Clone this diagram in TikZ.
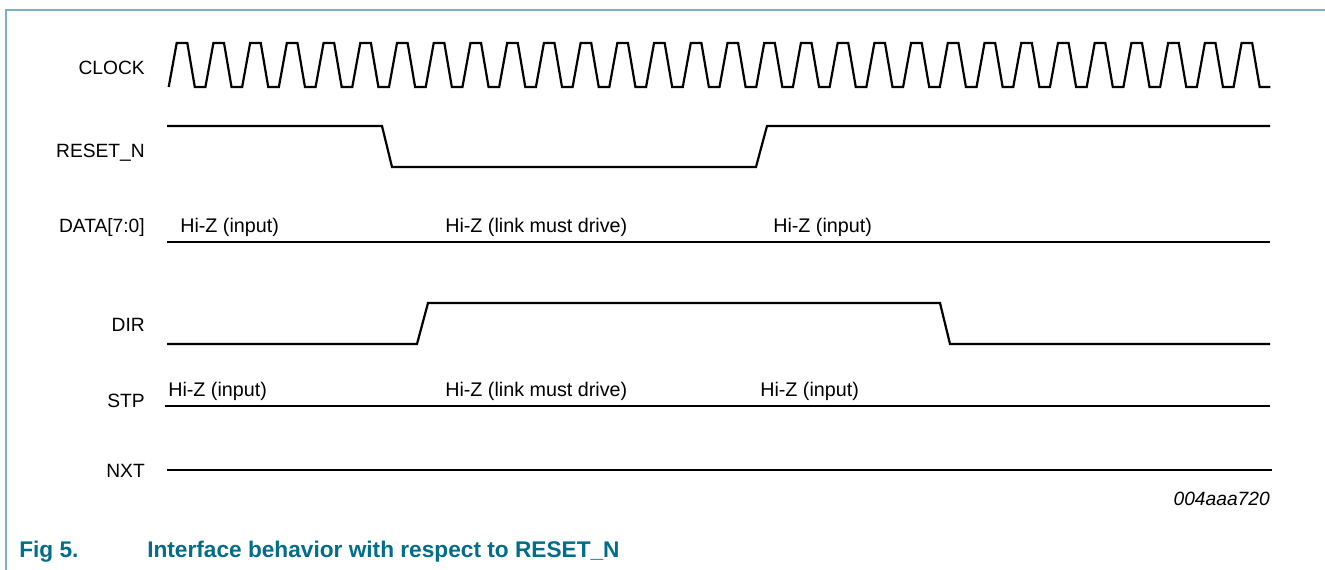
\documentclass[tikz,border=0pt]{standalone}
\usepackage{fontspec}
\setmainfont{Liberation Sans}
\usetikzlibrary{positioning}
\definecolor{framecol}{RGB}{122,178,196}
\definecolor{capcol}{RGB}{0,110,138}

\begin{document}
\begin{tikzpicture}[x=0.75pt,y=-0.75pt,
  wave/.style={line width=1.65pt,line join=miter},
  signame/.style={anchor=base east,inner sep=0pt,font=\fontsize{14.4}{16}\selectfont},
  hiz/.style={anchor=base west,inner sep=0pt,font=\fontsize{14.8}{16}\selectfont},
  caption/.style={anchor=base west,inner sep=0pt,text=capcol,font=\fontsize{17}{19}\selectfont\bfseries}]
  \useasboundingbox (0,0) rectangle (1325,570);
  % frame
  \draw[framecol,line width=1.5pt] (5.5,570) -- (5.5,10) -- (1325,10);

  % signal names
  \node[signame] (clk)  at (145,75)  {CLOCK};
  \node[signame] (rst)  at (145,158) {RESET\_N};
  \node[signame] (data) at (145,233) {DATA[7:0]};
  \node[signame] (dir)  at (145,332) {DIR};
  \node[signame] (stp)  at (145,407) {STP};
  \node[signame] (nxt)  at (145,477) {NXT};

  % waveforms
  \draw[wave] (168.7,87) \foreach \i in {1,...,30} {
      -- ++(8,-44) -- ++(10.6,0) -- ++(7.5,44) -- ++(10.62,0)};
  \draw[wave] (167,126) -- (382,126) -- (392,167) -- (756,167)
      -- (767,126) -- (1270,126);
  \draw[wave] (167,242) -- (1270,242);
  \draw[wave] (167,344) -- (417,344) -- (428,303) -- (940,303)
      -- (950,344) -- (1270,344);
  \draw[wave] (165,406) -- (1270,406);
  \draw[wave] (167,470) -- (1272,470);

  % bus labels
  \node[hiz] (d1) at (180,233) {Hi-Z (input)};
  \node[hiz] (d2) at (445,233) {Hi-Z (link must drive)};
  \node[hiz] (d3) at (773,233) {Hi-Z (input)};
  \node[hiz] (s1) at (168,397) {Hi-Z (input)};
  \node[hiz] (s2) at (445,397) {Hi-Z (link must drive)};
  \node[hiz] (s3) at (760,397) {Hi-Z (input)};

  \node[signame,font=\fontsize{14.4}{16}\selectfont\itshape] (code) at (1270,505) {004aaa720};

  % caption
  \node[caption] (fig) at (19,557) {Fig 5.};
  \node[caption] (title) at (147,557) {Interface behavior with respect to RESET\_N};
\end{tikzpicture}
\end{document}
